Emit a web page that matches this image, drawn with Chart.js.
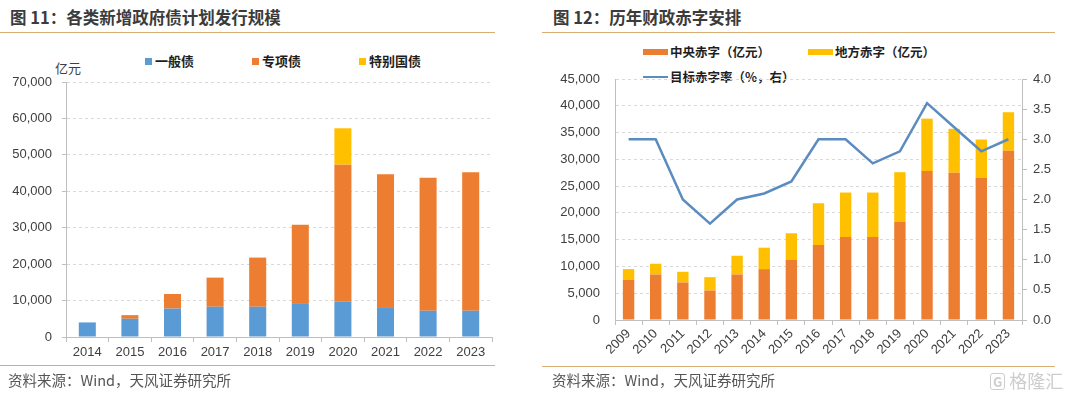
<!DOCTYPE html>
<html lang="zh-CN">
<head>
<meta charset="utf-8">
<title>各类新增政府债计划发行规模 / 历年财政赤字安排</title>
<script src="https://cdn.jsdelivr.net/npm/chart.js@4/dist/chart.umd.min.js"></script>
<style>
  body { margin: 0; width: 1080px; height: 396px; background: #fff; position: relative; overflow: hidden;
         font-family: "Liberation Sans", "Noto Sans CJK SC", sans-serif; }
  .title { position: absolute; top: 6px; line-height: 22px; font-size: 16.5px; font-weight: bold; color: #3b3b3b;
           font-family: "Noto Sans CJK SC", sans-serif; white-space: nowrap; }
  .rule { position: absolute; height: 1px; background: #d9ae74; }
  .source { position: absolute; top: 371px; line-height: 18px; font-size: 14.5px; color: #555;
            font-family: "Noto Sans CJK SC", sans-serif; white-space: nowrap; }
  .unit { position: absolute; left: 55px; top: 58px; font-size: 13px; color: #404040;
          font-family: "Noto Sans CJK SC", sans-serif; }
  canvas { position: absolute; }
  .legend { position: absolute; display: flex; flex-wrap: wrap; row-gap: 11px;
            font-family: "Noto Sans CJK SC", sans-serif; font-weight: bold; color: #1e1e1e; }
  .legend .item { display: flex; align-items: center; height: 14px; line-height: 14px; white-space: nowrap; }
  .legend .mark { display: inline-block; flex: none; }
  #legend1 { left: 145px; top: 54px; font-size: 13px; }
  #legend1 .item { margin-right: 58px; }
  #legend1 .mark { width: 7px; height: 7px; margin-right: 3px; }
  #legend2 { left: 643px; top: 45px; width: 345px; font-size: 12.5px; }
  #legend2 .item { margin-right: 38px; }
  #legend2 .slot { width: 25px; height: 6px; margin-right: 2px; display: flex; align-items: center; }
  .mark-wm { position: absolute; left: 990px; top: 370px; font-size: 18px; line-height: 20px; color: #cdcdcd;
             white-space: nowrap; font-family: "Noto Sans CJK SC", sans-serif; }
  .mark-wm b { display: inline-block; border: 1.5px solid #cdcdcd; border-radius: 3px; font-size: 13px;
               line-height: 15px; padding: 0 2px; margin-right: 4px; font-weight: bold; vertical-align: 1px; }
</style>
</head>
<body>
<div class="title" style="left:10px">图 11：各类新增政府债计划发行规模</div>
<div class="rule" style="left:0; width:495px; top:32px"></div>
<div class="title" style="left:553px">图 12：历年财政赤字安排</div>
<div class="rule" style="left:542px; width:513px; top:32px"></div>

<div class="unit">亿元</div>
<div class="legend" id="legend1"></div>
<div class="legend" id="legend2"></div>

<canvas id="bonds" width="500" height="330" style="left:0; top:40px"></canvas>
<canvas id="deficit" width="520" height="320" style="left:540px; top:40px"></canvas>

<div class="rule" style="left:0; width:495px; top:365px"></div>
<div class="rule" style="left:542px; width:513px; top:366px"></div>
<div class="source" style="left:8px">资料来源：Wind，天风证券研究所</div>
<div class="source" style="left:552px">资料来源：Wind，天风证券研究所</div>
<div class="mark-wm"><b>G</b>格隆汇</div>

<script>
// chart 1: new government bond quotas (亿元)
const bondYears = ['2014', '2015', '2016', '2017', '2018', '2019', '2020', '2021', '2022', '2023']
const generalBond = [4000, 5000, 7800, 8300, 8300, 9300, 9800, 8200, 7200, 7200]
const specialBond = [0, 1000, 4000, 8000, 13500, 21500, 37500, 36500, 36500, 38000]
const treasuryBond = [0, 0, 0, 0, 0, 0, 10000, 0, 0, 0]
const bondLabels = ['一般债', '专项债', '特别国债']

// chart 2: fiscal deficit
const deficitYears = ['2009', '2010', '2011', '2012', '2013', '2014', '2015', '2016',
	'2017', '2018', '2019', '2020', '2021', '2022', '2023']
const centralDeficit = [7500, 8500, 7000, 5500, 8500, 9500, 11200, 14000, 15500, 15500, 18300, 27800, 27500, 26500, 31600]
const localDeficit = [2000, 2000, 2000, 2500, 3500, 4000, 5000, 7800, 8300, 8300, 9300, 9800, 8200, 7200, 7200]
const deficitRate = [3.0, 3.0, 2.0, 1.6, 2.0, 2.1, 2.3, 3.0, 3.0, 2.6, 2.8, 3.6, 3.2, 2.8, 3.0]
const deficitLabels = ['中央赤字（亿元）', '地方赤字（亿元）', '目标赤字率（%，右）']

const BLUE = '#5B9BD5', ORANGE = '#ED7D31', YELLOW = '#FFC000', LINE = '#5B8CC0'
const AXIS = '#bfbfbf', GRID = '#d9d9d9', TICK = '#404040'

Chart.defaults.font.family = '"Liberation Sans", "Noto Sans CJK SC", sans-serif'
Chart.defaults.font.size = 13
Chart.defaults.color = TICK

// legend built as html from the chart's own legend items
const htmlLegend = {
	id: 'htmlLegend',
	afterUpdate(chart, args, opts) {
		const box = document.getElementById(opts.containerID)
		box.innerHTML = ''
		const items = chart.options.plugins.legend.labels.generateLabels(chart)
			.sort((a, b) => a.datasetIndex - b.datasetIndex)
		items.forEach(item => {
			const ds = chart.data.datasets[item.datasetIndex]
			const el = document.createElement('div')
			el.className = 'item'
			const mark = document.createElement('span')
			mark.className = 'mark'
			if (ds.type === 'line') {
				mark.style.width = '25px'
				mark.style.height = ds.borderWidth + 'px'
				mark.style.background = ds.borderColor
			} else {
				mark.style.background = ds.backgroundColor
				if (opts.wide) { mark.style.width = '25px'; mark.style.height = '6px' }
			}
			if (opts.wide) {
				const slot = document.createElement('span')
				slot.className = 'slot'
				slot.appendChild(mark)
				el.appendChild(slot)
			} else {
				el.appendChild(mark)
			}
			const txt = document.createElement('span')
			txt.textContent = item.text
			el.appendChild(txt)
			box.appendChild(el)
		})
	}
}

new Chart(document.getElementById('bonds'), {
	type: 'bar',
	data: {
		labels: bondYears,
		datasets: [
			{ label: bondLabels[0], data: generalBond, backgroundColor: BLUE },
			{ label: bondLabels[1], data: specialBond, backgroundColor: ORANGE },
			{ label: bondLabels[2], data: treasuryBond, backgroundColor: YELLOW }
		].map(d => Object.assign(d, { categoryPercentage: 1, barPercentage: 0.4, borderWidth: 0 }))
	},
	plugins: [htmlLegend],
	options: {
		responsive: false,
		animation: false,
		layout: { padding: { top: 42, right: 8, bottom: 3, left: 0 } },
		plugins: {
			legend: { display: false },
			tooltip: { enabled: false },
			htmlLegend: { containerID: 'legend1' }
		},
		scales: {
			x: {
				stacked: true,
				grid: { drawOnChartArea: false, tickColor: AXIS, tickLength: 5 },
				border: { color: AXIS },
				ticks: { padding: 3, color: TICK },
				afterFit: s => { s.height = 30 }
			},
			y: {
				stacked: true,
				min: 0, max: 70000,
				ticks: { stepSize: 10000, padding: 10, color: TICK },
				grid: { color: GRID, tickColor: AXIS, tickLength: 4 },
				border: { color: AXIS, dash: [3, 3] },
				afterFit: s => { s.width = 66 }
			}
		}
	}
})

new Chart(document.getElementById('deficit'), {
	type: 'bar',
	data: {
		labels: deficitYears,
		datasets: [
			{ label: deficitLabels[0], data: centralDeficit, backgroundColor: ORANGE, order: 1,
				categoryPercentage: 1, barPercentage: 0.42, borderWidth: 0, yAxisID: 'y' },
			{ label: deficitLabels[1], data: localDeficit, backgroundColor: YELLOW, order: 1,
				categoryPercentage: 1, barPercentage: 0.42, borderWidth: 0, yAxisID: 'y' },
			{ type: 'line', label: deficitLabels[2], data: deficitRate, borderColor: LINE, backgroundColor: LINE,
				borderWidth: 2.5, pointRadius: 0, tension: 0, order: 0, yAxisID: 'y1' }
		]
	},
	plugins: [htmlLegend],
	options: {
		responsive: false,
		animation: false,
		layout: { padding: { top: 39, right: 0, bottom: 2, left: 0 } },
		plugins: {
			legend: { display: false },
			tooltip: { enabled: false },
			htmlLegend: { containerID: 'legend2', wide: true }
		},
		scales: {
			x: {
				stacked: true,
				grid: { drawOnChartArea: false, tickColor: AXIS, tickLength: 5 },
				border: { color: AXIS },
				ticks: { minRotation: 45, maxRotation: 45, padding: 1, color: TICK },
				afterFit: s => { s.height = 38 }
			},
			y: {
				stacked: true,
				position: 'left',
				min: 0, max: 45000,
				ticks: { stepSize: 5000, padding: 15, color: TICK },
				grid: { color: GRID, drawTicks: false },
				border: { color: AXIS, dash: [3, 3] },
				afterFit: s => { s.width = 75 }
			},
			y1: {
				position: 'right',
				min: 0, max: 4.0,
				ticks: { stepSize: 0.5, padding: 6, color: TICK, callback: v => v.toFixed(1) },
				grid: { drawOnChartArea: false, tickColor: AXIS, tickLength: 5 },
				border: { color: AXIS },
				afterFit: s => { s.width = 38 }
			}
		}
	}
})
</script>
</body>
</html>
